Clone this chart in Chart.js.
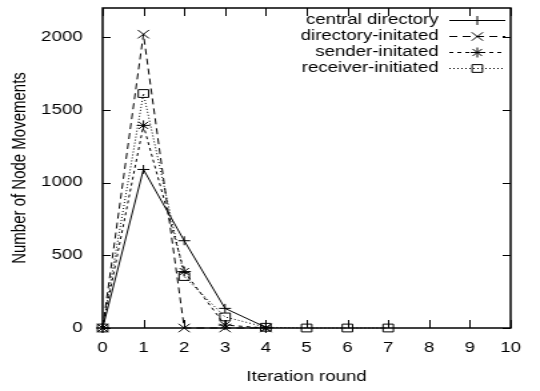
<!DOCTYPE html>
<html>
<head>
<meta charset="utf-8">
<script src="https://cdn.jsdelivr.net/npm/chart.js@4"></script>
<style>
  body { margin: 0; background: #fff; }
  #wrap { width: 405px; height: 391px; transform: scaleX(1.3333); transform-origin: 0 0; }
</style>
</head>
<body>
<div id="wrap"><canvas id="myChart" width="405" height="391"></canvas></div>
<script>
const xTicks = [0, 1, 2, 3, 4, 5, 6, 7, 8, 9, 10];
const yTicks = [0, 500, 1000, 1500, 2000];

const centralRounds = [0, 1, 2, 3, 4];
const centralDirectory = [0, 1090, 600, 135, 5];
const directoryRounds = [0, 1, 2, 3, 4];
const directoryInitiated = [0, 2020, 0, 0, 0];
const senderRounds = [0, 1, 2, 3, 4];
const senderInitiated = [0, 1393, 388, 20, 0];
const receiverRounds = [0, 1, 2, 3, 4, 5, 6, 7];
const receiverInitiated = [0, 1612, 354, 76, 5, 0, 0, 0];

const FONT = "'Liberation Sans', Arial, Helvetica, sans-serif";

function pts(xs, ys) {
  return xs.map((x, i) => ({ x: x, y: ys[i] }));
}

function series(label, xs, ys, dash, style, radius) {
  return {
    label: label,
    data: pts(xs, ys),
    borderColor: "#000",
    borderWidth: 1,
    borderDash: dash,
    pointStyle: style,
    pointRadius: radius,
    pointBorderColor: "#000",
    pointBackgroundColor: "rgba(0,0,0,0)",
    pointBorderWidth: 1,
    fill: false,
    tension: 0,
    clip: false,
  };
}

// gnuplot style frame with inward ticks on all four sides
const frame = {
  id: "frame",
  afterDatasetsDraw(chart) {
    const { ctx, chartArea: a, scales } = chart;
    ctx.save();
    ctx.strokeStyle = "#000";
    ctx.lineWidth = 1;
    ctx.beginPath();
    xTicks.forEach((v) => {
      const px = Math.round(scales.x.getPixelForValue(v)) + 0.5;
      ctx.moveTo(px, a.bottom);
      ctx.lineTo(px, a.bottom - 8);
      ctx.moveTo(px, a.top);
      ctx.lineTo(px, a.top + 8);
    });
    yTicks.forEach((v) => {
      const py = Math.round(scales.y.getPixelForValue(v)) + 0.5;
      ctx.moveTo(a.left, py);
      ctx.lineTo(a.left + 6, py);
      ctx.moveTo(a.right, py);
      ctx.lineTo(a.right - 6, py);
    });
    ctx.stroke();
    ctx.lineWidth = 1.5;
    ctx.strokeRect(a.left, a.top, a.right - a.left, a.bottom - a.top);
    ctx.restore();
  },
};

// key in the top right corner: label right aligned, sample line to its right
const key = {
  id: "key",
  afterDraw(chart) {
    const ctx = chart.ctx;
    ctx.save();
    ctx.font = "14px " + FONT;
    ctx.textAlign = "right";
    ctx.textBaseline = "middle";
    chart.data.datasets.forEach((ds, i) => {
      const y = 20 + i * 16;
      ctx.fillStyle = "#000";
      ctx.fillText(ds.label, 329, y);
      ctx.strokeStyle = "#000";
      ctx.lineWidth = 1;
      ctx.setLineDash(ds.borderDash);
      ctx.beginPath();
      ctx.moveTo(337, y + 0.5);
      ctx.lineTo(379, y + 0.5);
      ctx.stroke();
      ctx.setLineDash([]);
      ctx.fillStyle = "rgba(0,0,0,0)";
      Chart.helpers.drawPoint(ctx, {
        pointStyle: ds.pointStyle,
        radius: ds.pointRadius,
        borderWidth: 1,
        rotation: 0,
      }, 358, y + 0.5);
    });
    ctx.restore();
  },
};

new Chart("myChart", {
  type: "line",
  data: {
    datasets: [
      series("central directory", centralRounds, centralDirectory, [], "cross", 4.5),
      series("directory-initated", directoryRounds, directoryInitiated, [6, 4], "crossRot", 6),
      series("sender-initated", senderRounds, senderInitiated, [3, 3], "star", 5),
      series("receiver-initiated", receiverRounds, receiverInitiated, [1, 2], "rect", 5.5),
    ],
  },
  plugins: [frame, key],
  options: {
    responsive: false,
    animation: false,
    layout: { padding: { left: 0, right: 22, top: 8, bottom: 0 } },
    plugins: {
      legend: { display: false },
      tooltip: { enabled: false },
    },
    scales: {
      x: {
        type: "linear",
        min: 0,
        max: 10,
        afterBuildTicks: (s) => { s.ticks = xTicks.map((v) => ({ value: v })); },
        afterFit: (s) => {
          s.height = 63;
          s.paddingLeft = 0;
          s.paddingRight = 0;
        },
        grid: { display: false },
        border: { display: false },
        ticks: {
          color: "#000",
          padding: 4,
          maxRotation: 0,
          font: { family: FONT, size: 14 },
          callback: (v) => String(v),
        },
        title: {
          display: true,
          text: "Iteration round",
          color: "#000",
          padding: { top: 0, bottom: 5 },
          font: { family: FONT, size: 14 },
        },
      },
      y: {
        type: "linear",
        min: 0,
        max: 2200,
        afterBuildTicks: (s) => { s.ticks = yTicks.map((v) => ({ value: v })); },
        afterFit: (s) => {
          s.width = 77;
          s.paddingTop = 0;
          s.paddingBottom = 0;
        },
        grid: { display: false },
        border: { display: false },
        ticks: {
          color: "#000",
          padding: 7,
          font: { family: FONT, size: 14 },
          callback: (v) => String(v),
        },
        title: {
          display: true,
          text: "Number of Node Movements",
          color: "#000",
          padding: { top: 6, bottom: 0 },
          font: { family: FONT, size: 15 },
        },
      },
    },
  },
});
</script>
</body>
</html>
